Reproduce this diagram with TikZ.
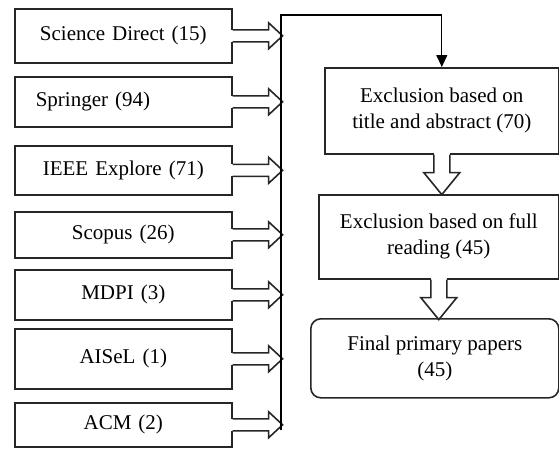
\documentclass[tikz,border=0pt]{standalone}
\usepackage{fontspec}
\setmainfont{Liberation Serif}
\usetikzlibrary{arrows.meta}

\tikzset{
  outl/.style={draw=black!85, line width=1.6pt},
  src/.style={outl, anchor=north west, inner xsep=0pt, inner ysep=0pt, text width=217pt, align=center},
  stage/.style={outl, anchor=north west, inner sep=0pt, align=center},
  hollowR/.pic={
    \fill[white] (-1.5,-6) rectangle (36,6);
    \draw[outl] (0,-6) -- (36,-6) -- (36,-13) -- (50,0) -- (36,13) -- (36,6) -- (0,6);
  },
  hollowD/.pic={
    \fill[white] (-8,-1.5) rectangle (8,18);
    \draw[outl] (-8,0) -- (-8,18) -- (-18,18) -- (0,40) -- (18,18) -- (8,18) -- (8,0);
  }
}

\begin{document}
\begin{tikzpicture}[x=1pt,y=-1pt]
\tikzstyle{every node}+=[font=\fontsize{21}{26}\selectfont]
\useasboundingbox (0,0) rectangle (559,448);
% sources
\node[src, minimum height=54pt] (sciDirect) at (14,8) {Science Direct (15)};
\node[src, minimum height=50pt, align=left] (springer) at (14,76) {\hspace*{21pt}Springer (94)};
\node[src, minimum height=49pt] (ieee) at (14,145) {IEEE Explore (71)};
\node[src, minimum height=46pt] (scopus) at (14,211) {Scopus (26)};
\node[src, minimum height=50pt] (mdpi) at (14,269) {MDPI (3)};
\node[src, minimum height=60pt] (aisel) at (14,328) {AISeL (1)};
\node[src, minimum height=44pt] (acm) at (14,402) {ACM (2)};
% screening stages
\node[stage, minimum width=234pt, minimum height=86pt] (exclTitle) at (324,67) {Exclusion based on\\title and abstract (70)};
\node[stage, minimum width=240pt, minimum height=84pt] (exclFull) at (318,194) {Exclusion based on full\\reading (45)};
\node[stage, minimum width=248pt, minimum height=79pt, rounded corners=10pt] (final) at (310,318) {Final primary papers\\(45)};
% arrows
\foreach \s in {sciDirect,springer,ieee,scopus,mdpi,aisel,acm}
  \pic at (\s.east) {hollowR};
\coordinate (trunkTop) at (281,15);
\coordinate (trunkBot) at (281,430);
\draw[line width=1.1pt, -{Triangle[length=12pt,width=11pt]}] (trunkBot) -- (trunkTop) -| (exclTitle.north);
\pic at (exclTitle.south) {hollowD};
\pic at (exclFull.south) {hollowD};
\end{tikzpicture}
\end{document}
